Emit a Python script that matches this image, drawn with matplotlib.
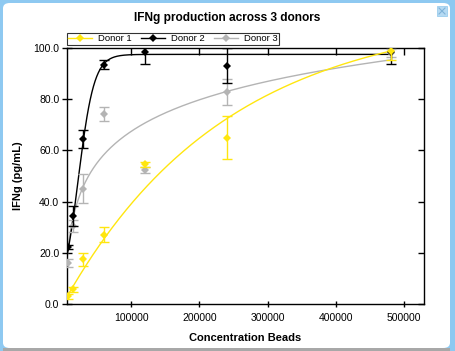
import numpy as np
import matplotlib
matplotlib.use("Agg")
import matplotlib.pyplot as plt
from matplotlib.patches import FancyBboxPatch, Rectangle
from matplotlib.lines import Line2D

plt.rcParams['font.family'] = ['Liberation Sans', 'DejaVu Sans']

# ---- data ----
conc = [7500, 15000, 30000, 60000, 120000, 240000, 480000]
donor1 = [3.0, 5.8, 17.5, 27.0, 54.5, 65.0, 99.0]
donor1_err = [1.0, 1.0, 2.5, 2.9, 1.0, 8.4, 3.6]
donor2 = [22.3, 34.2, 64.6, 93.5, 98.5, 93.1, 98.3]
donor2_err = [0.8, 3.9, 3.5, 1.7, 4.6, 6.8, 4.4]
donor3 = [16.0, 30.5, 45.0, 74.2, 52.4, 82.8, 98.0]
donor3_err = [1.5, 2.3, 5.7, 2.6, 1.2, 5.2, 1.5]
series_names = ["Donor 1", "Donor 2", "Donor 3"]
colors = ["#FFE60F", "#000000", "#B4B4B4"]

# fitted-curve parameters
fit1_top, fit1_k = 114.0, 4.2e-6           # exponential rise
fit2_top, fit2_k, fit2_x50 = 97.5, 8.62e-5, 22500.0  # logistic
fit3_a, fit3_b = -137.5, 17.8              # logarithmic

W, H = 455, 351
fig = plt.figure(figsize=(W / 100, H / 100), dpi=100)
fig.patch.set_facecolor("#8EC9F1")

# window body
body = FancyBboxPatch((3 / W, 3 / H), (450 - 3) / W, (348 - 3) / H,
                      boxstyle="round,pad=0,rounding_size=0.015",
                      transform=fig.transFigure, facecolor="white",
                      edgecolor="none", zorder=-10)
fig.patches.append(body)
fig.patches.append(Rectangle((3 / W, 0), 447 / W, 3 / H, transform=fig.transFigure,
                             facecolor="#A8A8A8", edgecolor="none", zorder=-10))
# close button
fig.patches.append(Rectangle((437 / W, 1 - 16 / H), 10 / W, 10 / H, transform=fig.transFigure,
                             facecolor="#B5DAF3", edgecolor="#9CCDEE", lw=0.6, zorder=-9))
fig.lines.append(Line2D([439 / W, 445 / W], [1 - 8 / H, 1 - 14 / H], transform=fig.transFigure,
                        color="#7FB3D8", lw=0.8, zorder=-8))
fig.lines.append(Line2D([439 / W, 445 / W], [1 - 14 / H, 1 - 8 / H], transform=fig.transFigure,
                        color="#7FB3D8", lw=0.8, zorder=-8))

ax = fig.add_axes([67 / W, 1 - 304 / H, (424 - 67) / W, (304 - 48) / H])
ax.set_facecolor("white")

xs = np.linspace(6000, 480000, 600)
fit1 = fit1_top * (1 - np.exp(-fit1_k * xs))
fit2 = fit2_top / (1 + np.exp(-fit2_k * (xs - fit2_x50)))
fit3 = fit3_a + fit3_b * np.log(xs)

for ys, c in zip([fit3, fit2, fit1], [colors[2], colors[1], colors[0]]):
    ax.plot(xs, ys, color=c, lw=1.0, zorder=2)

z = 3
for vals, errs, c in zip([donor3, donor2, donor1], [donor3_err, donor2_err, donor1_err],
                         [colors[2], colors[1], colors[0]]):
    ax.errorbar(conc, vals, yerr=errs, fmt="none", ecolor=c, elinewidth=1.0,
                capsize=3.5, capthick=1.0, zorder=z)
    ax.plot(conc, vals, "D", color=c, ms=4.5, mew=0, zorder=z + 0.5)
    z += 1

ax.set_xlim(6000, 529000)
ax.set_ylim(0, 100)
ax.set_xticks([100000, 200000, 300000, 400000, 500000])
ax.set_xticklabels(["100000", "200000", "300000", "400000", "500000"])
ax.set_yticks([0, 20, 40, 60, 80, 100])
ax.set_yticklabels(["0.0", "20.0", "40.0", "60.0", "80.0", "100.0"])
ax.tick_params(axis="both", labelsize=7.5, colors="black", width=1.0)
ax.tick_params(axis="y", direction="inout", length=7, pad=2)
ax.tick_params(axis="x", direction="inout", length=5, pad=4)
ax.tick_params(top=True, right=True, labeltop=False, labelright=False)
for t in ax.xaxis.get_major_ticks():
    t.tick2line.set_marker(3)  # inward on top
    t.tick2line.set_markersize(5)
for t in ax.yaxis.get_major_ticks():
    t.tick2line.set_marker(0)  # inward on right
    t.tick2line.set_markersize(4.5)
for s in ax.spines.values():
    s.set_linewidth(1.0)

ax.set_xlabel("Concentration Beads", fontsize=8, fontweight="bold", labelpad=7)
ax.set_ylabel("IFNg (pg/mL)", fontsize=8, fontweight="bold", labelpad=7.5)
fig.text(227.5 / W, 1 - 18 / H, "IFNg production across 3 donors", ha="center", va="center",
         fontsize=8.6, fontweight="bold")

leg_handles = [Line2D([], [], color=c, marker="D", ms=4.5, mew=0, lw=1.0) for c in colors]
leg = fig.legend(leg_handles, series_names, loc="upper left",
                 bbox_to_anchor=(67 / W, 1 - 33 / H), ncol=3, fontsize=6.8,
                 frameon=True, fancybox=False, borderpad=0.15, handlelength=2.5,
                 handletextpad=0.66, columnspacing=1.0, borderaxespad=0)
leg.get_frame().set_edgecolor("black")
leg.get_frame().set_linewidth(0.8)

fig.savefig("out.png", dpi=100, facecolor=fig.get_facecolor())
